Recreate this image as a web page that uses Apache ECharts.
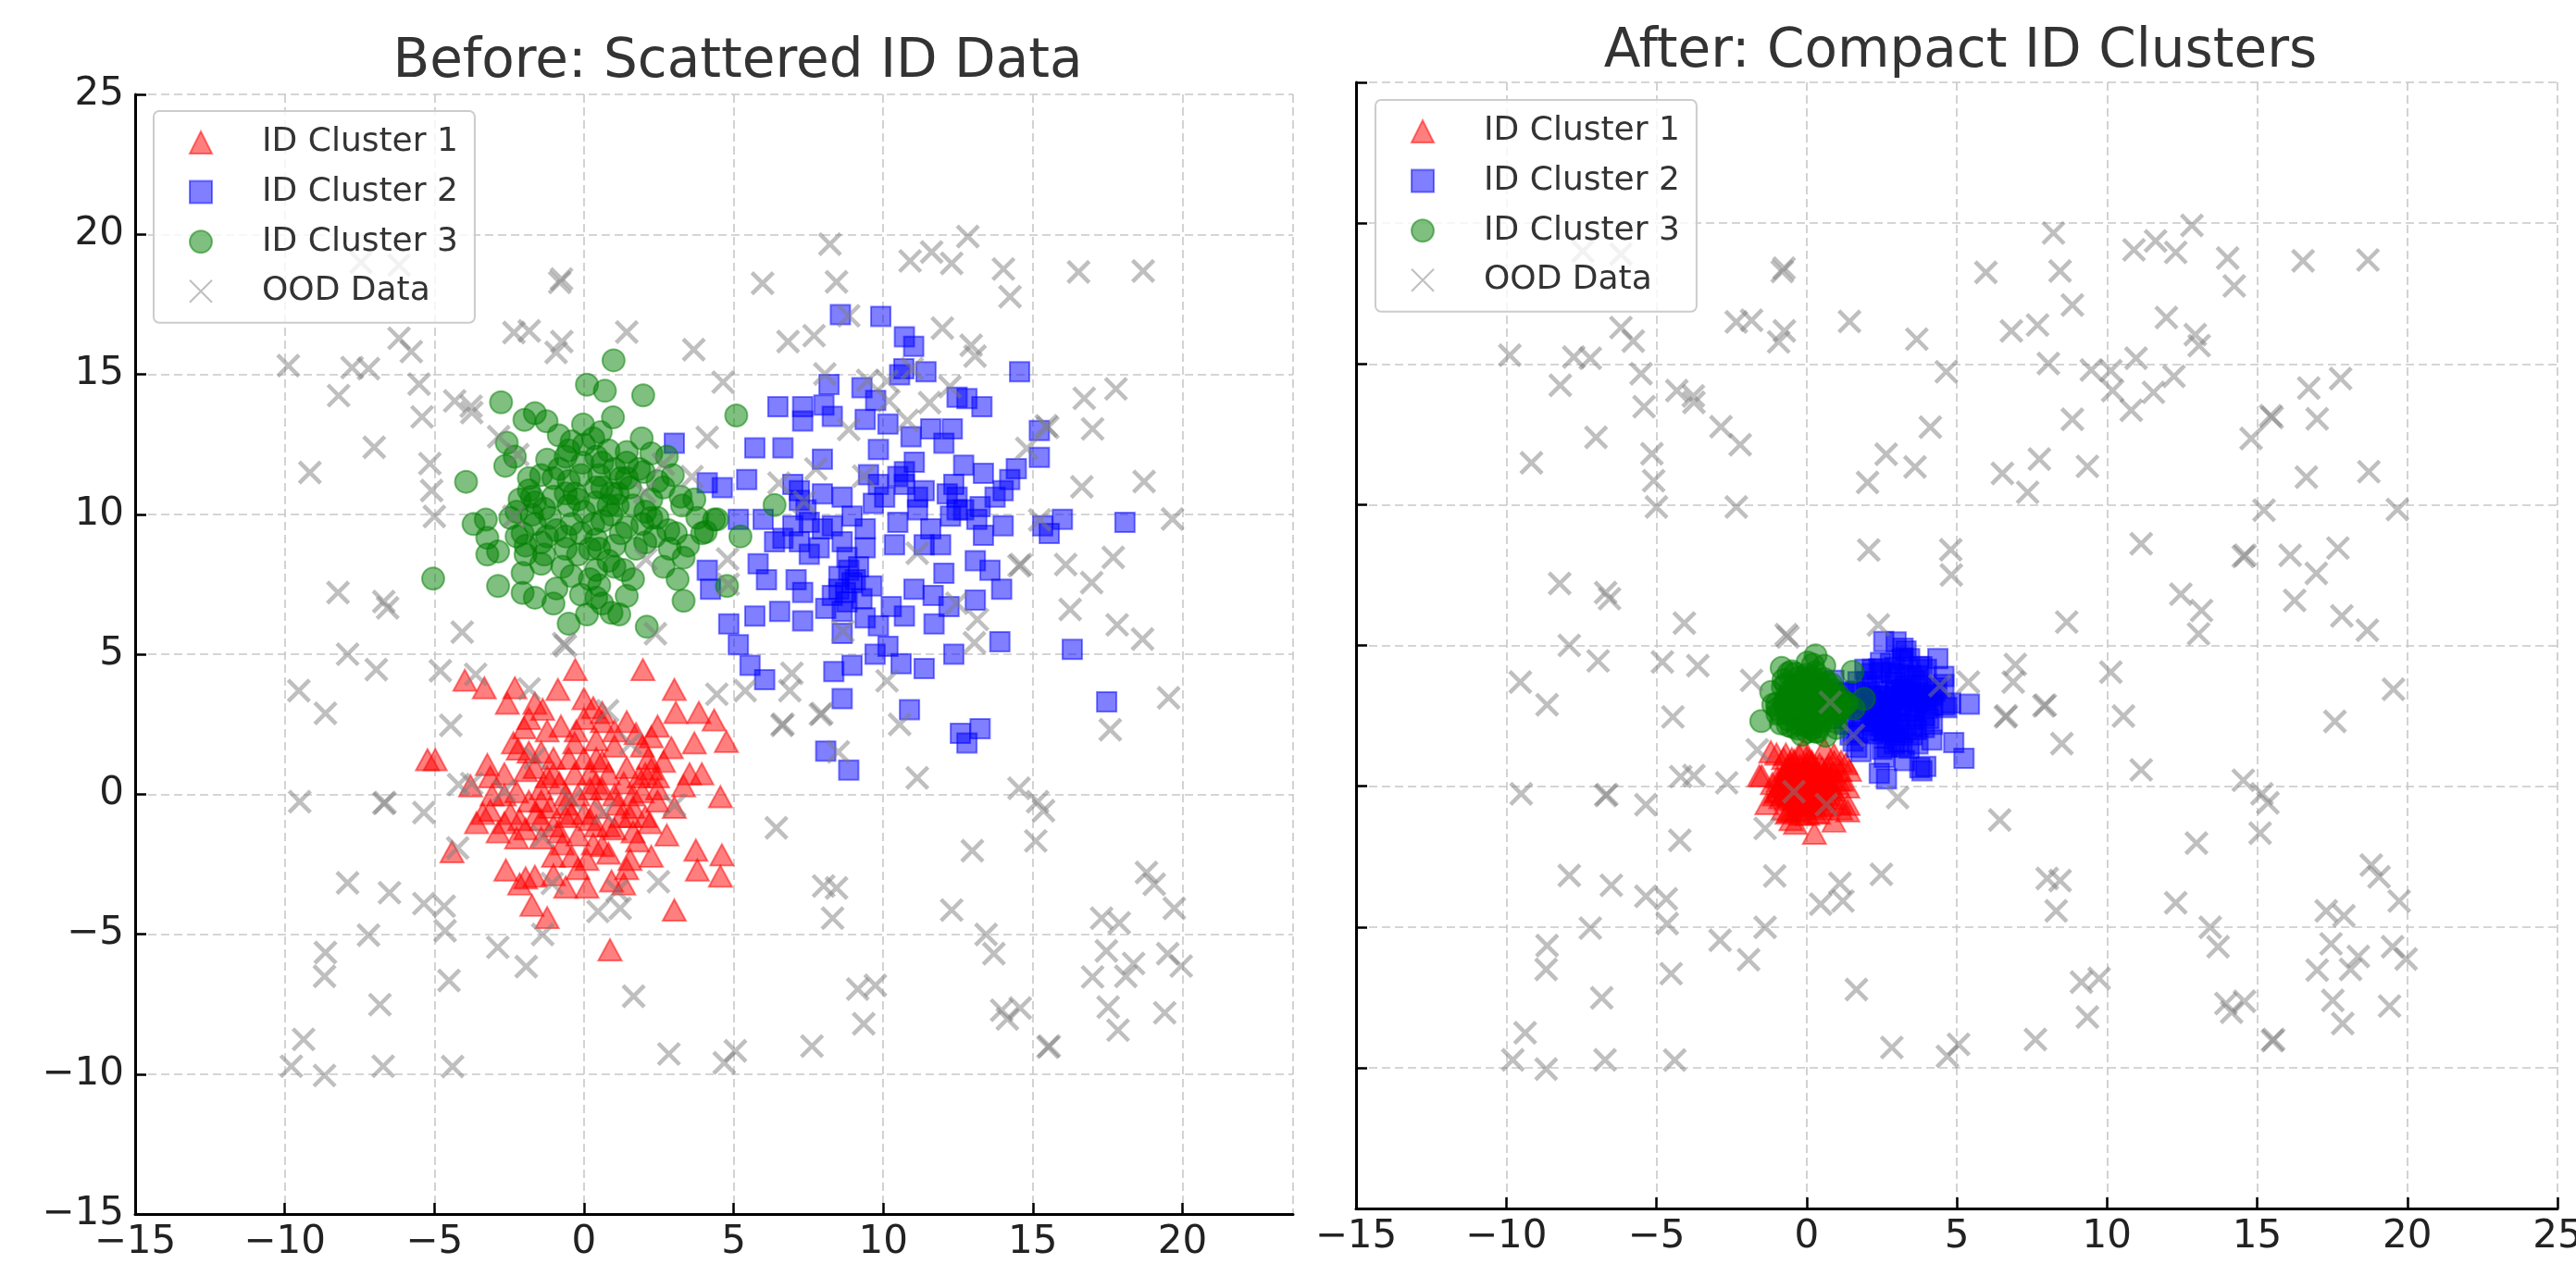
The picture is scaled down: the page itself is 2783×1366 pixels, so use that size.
<!DOCTYPE html>
<html>
<head>
<meta charset="utf-8">
<script src="https://cdn.jsdelivr.net/npm/echarts@6/dist/echarts.min.js"></script>
<style>
html,body{margin:0;padding:0;background:#fff;}
#chart{width:2783px;height:1366px;}
</style>
</head>
<body>
<div id="chart"></div>
<script>
// ---------------- DATA ----------------
const titles = ['Before: Scattered ID Data', 'After: Compact ID Clusters'];
const seriesNames = ['ID Cluster 1', 'ID Cluster 2', 'ID Cluster 3', 'OOD Data'];
const axisRangeBefore = { xMin: -15, xMax: 23.7, yMin: -15, yMax: 25 };
const axisRangeAfter = { xMin: -15, xMax: 25, yMin: -15, yMax: 25 };
const tickStep = 5;

const cluster1Before = [
[-0.29,4.45],[1.97,4.45],[-3.98,4.07],[-3.33,3.8],[-2.31,3.8],[-0.87,3.74],[-2.56,3.25],[-1.38,3.03],[0,3.41],[3.02,3.74],
[3.07,2.92],[3.84,2.92],[4.35,2.65],[4.76,1.88],[3.69,1.83],[2.92,1.66],[2.46,2.43],[1.43,2.59],[0.61,2.59],[0.31,3.09],
[-0.77,2.43],[-2.0,2.37],[-2.36,1.83],[-0.26,2.26],[-5.23,1.23],[-4.97,1.23],[-3.23,1.06],[-2.2,1.61],[-1.43,1.5],[-0.31,1.83],
[0.41,1.94],[1.02,1.72],[1.74,2.16],[2.15,1.28],[3.53,0.73],[3.94,0.73],[4.56,-0.09],[3.33,0.3],[2.46,0.62],[1.84,0.62],
[0.61,1.17],[0.2,0.73],[-1.02,0.73],[-1.95,0.84],[-2.66,0.73],[-3.13,0.62],[-3.79,0.3],[-3.07,-0.03],[-2.25,0.08],[-1.43,0.19],
[-0.82,0.4],[-0.2,-0.03],[0.61,0.19],[1.33,0.4],[1.95,0.08],[2.46,-0.25],[3.02,-0.47],[-3.59,-1.02],[-3.13,-0.58],[-2.66,-1.02],
[-2.15,-0.91],[-1.59,-0.69],[-1.13,-0.47],[-0.61,-0.8],[0,-0.69],[0.41,-0.47],[1.13,-0.36],[1.64,-0.47],[2.05,-0.8],[2.77,-1.46],
[2.2,-1.02],[-2.25,-1.56],[-1.43,-1.56],[-0.82,-1.35],[-0.2,-1.46],[0.41,-1.13],[1.02,-1.24],[1.64,-1.35],[-4.41,-2.06],[-2.61,-2.71],
[-1.95,-2.99],[-1.64,-2.93],[-1.02,-2.22],[-0.41,-2.22],[0.1,-2.33],[0.61,-1.84],[0.82,-2.11],[1.54,-2.33],[2.25,-2.22],[3.74,-2.0],
[4.61,-2.17],[3.79,-2.71],[4.56,-2.93],[-0.61,-3.32],[0.1,-3.32],[0.92,-3.1],[1.33,-3.21],[-1.74,-3.97],[-1.23,-4.41],[3.02,-4.14],
[0.87,-5.56],[-1.43,-0.25],[-0.61,-0.03],[0.2,0.19],[0.82,0.73],[1.02,-0.03],[1.54,-0.8],[-1.84,-0.25],[-2.46,-0.69],[-1.02,1.28],
[-1.84,2.7],[0,2.7],[-1.23,2.26],[2.25,0.9],[1.43,0.95],[-0.51,1.28],[-3.38,-0.69],[-2.87,-1.35],[0.31,-1.78],[-0.2,-2.66],
[-1.02,-2.88],[-2.15,-3.21],[1.79,-1.67],[-0.72,-1.78],[1.95,1.72],[0,1.28],[0.41,1.28],[-1.43,-0.91],[1.23,-0.8],[-1.23,0.62],
[-1.64,0.95],[-2.66,-0.03],[-0.41,-0.69],[0.82,-1.13],[1.43,-2.66],[-0.61,-0.36],[-1.02,-1.13],[0.41,0.4],[1.64,-0.03],[-1.95,-1.24],
[0.2,-0.91],[-0.31,0.73],[2.05,0.73],[2.46,0.19],[-1.64,3.25],[0.61,2.92],[1.02,2.26],[2.25,2.05],[2.66,1.17],[-1.84,1.5]
];

const cluster2Before = [
[8.57,17.13],[9.92,17.07],[10.71,16.34],[11.02,16.0],[10.69,15.2],[11.43,15.09],[14.56,15.09],[8.19,14.64],[9.29,14.52],[9.75,14.07],
[10.55,14.98],[6.48,13.84],[7.31,13.84],[8.02,13.9],[7.31,13.33],[8.3,13.5],[9.4,13.39],[12.47,14.18],[12.8,14.13],[13.3,13.84],
[5.71,12.37],[6.65,12.37],[7.97,11.97],[9.84,12.31],[10.16,13.22],[10.93,12.77],[11.59,13.05],[12.31,13.05],[12.03,12.54],[15.22,12.99],
[15.22,12.03],[14.45,11.63],[14.23,11.24],[12.69,11.75],[13.35,11.46],[12.36,11.07],[11.04,11.86],[10.49,11.35],[9.51,11.41],[5.44,11.24],
[4.62,10.95],[4.12,11.12],[3.02,12.54],[7.2,10.84],[7.97,10.73],[8.63,10.61],[7.2,10.5],[9.67,10.39],[10.71,11.07],[11.37,10.84],
[12.14,10.73],[12.47,10.16],[13.13,9.82],[13.74,10.61],[14.01,9.59],[15.99,9.82],[15.33,9.59],[15.55,9.31],[18.08,9.71],[5.16,9.82],
[5.99,9.82],[6.98,9.59],[7.53,9.71],[8.3,9.59],[8.96,9.93],[9.4,9.48],[10.49,9.71],[11.15,10.16],[11.59,9.48],[12.25,9.93],
[13.35,9.25],[6.37,9.02],[7.2,9.02],[7.86,8.8],[8.63,9.02],[10.38,8.91],[11.37,8.91],[11.92,8.91],[8.79,8.46],[5.82,8.23],
[4.12,8.0],[6.1,7.66],[7.09,7.66],[8.52,7.78],[9.07,7.66],[9.62,7.44],[12.03,7.89],[13.08,8.34],[13.57,8.0],[13.96,7.32],
[4.23,7.32],[7.31,7.21],[8.3,7.1],[8.74,7.21],[9.29,6.98],[11.03,7.32],[11.67,7.1],[13.08,6.93],[12.2,6.7],[4.84,6.08],
[5.71,6.36],[6.54,6.53],[7.31,6.19],[8.08,6.64],[8.63,6.53],[9.4,6.3],[10.27,6.7],[10.71,6.36],[11.7,6.08],[8.63,5.74],
[9.84,6.02],[5.16,5.34],[9.73,5.0],[10.16,5.28],[12.36,5.0],[13.9,5.45],[16.32,5.17],[5.55,4.6],[6.04,4.09],[8.35,4.38],
[8.96,4.6],[10.6,4.66],[11.37,4.49],[8.63,3.41],[10.88,3.02],[17.47,3.3],[12.58,2.17],[13.24,2.34],[12.8,1.83],[8.08,1.54],
[8.85,0.86],[8.85,8.0],[8.96,7.55],[8.52,7.32],[8.79,6.87],[9.18,8.12],[7.97,9.48],[7.42,10.16],[9.84,11.07],[10.71,11.52],
[10.05,10.61],[11.15,10.61],[12.69,10.16],[12.47,10.61],[6.65,9.14],[7.53,8.57],[9.4,8.8],[13.24,10.27],[6.98,11.07],[14.01,10.84]
];

const cluster3Before = [
[0.99,15.5],[0.1,14.63],[0.7,14.41],[1.98,14.25],[-2.77,14.0],[5.09,13.53],[-1.99,13.37],[-1.64,13.61],[-1.25,13.32],[-0.84,12.82],
[-0.03,13.21],[0.97,13.46],[0.56,12.93],[1.93,12.71],[-2.58,12.55],[-2.63,11.73],[-2.31,12.06],[-1.23,11.95],[-0.61,12.06],[-0.05,11.84],
[0.41,12.06],[0.82,12.28],[1.43,12.22],[2.0,11.51],[-3.94,11.16],[-1.84,10.85],[-1.02,11.29],[-0.31,10.74],[0.61,10.96],[1.23,11.29],
[2.77,12.06],[2.66,10.96],[3.23,10.63],[-3.69,9.65],[-3.28,9.81],[-3.23,9.16],[-3.23,8.56],[-2.87,8.67],[-2.25,10.09],[-1.64,10.42],
[-1.13,9.87],[-0.51,10.31],[0.41,10.42],[0.92,9.98],[1.64,10.31],[2.25,9.87],[2.82,9.43],[3.79,9.87],[4.35,9.81],[3.95,9.32],
[5.23,9.21],[3.33,8.45],[-5.04,7.7],[-2.87,7.44],[-2.05,9.32],[-1.95,8.56],[-1.43,8.99],[-0.61,8.77],[-0.1,9.32],[0.41,9.1],
[1.02,8.88],[1.74,8.77],[2.36,9.21],[2.66,8.12],[3.13,7.68],[3.33,6.91],[-2.05,7.9],[-1.43,8.23],[-0.72,8.12],[0.41,8.01],
[1.33,8.01],[-2.05,7.19],[-1.64,7.02],[-0.92,7.35],[-0.1,7.13],[0.51,7.46],[1.43,7.08],[-0.51,6.09],[0.1,6.42],[0.61,6.81],
[0.92,6.48],[1.18,6.42],[2.1,5.98],[-1.74,10.63],[-1.43,11.4],[-0.51,12.28],[0.31,12.71],[-0.1,11.4],[0.51,11.4],[1.13,10.74],
[1.84,11.62],[1.43,11.84],[2.46,11.18],[2.25,10.53],[-0.61,10.74],[0,10.09],[-0.92,9.43],[-0.41,9.65],[0.61,9.76],[1.43,9.54],
[2.05,8.99],[2.87,8.77],[-2.46,9.87],[-2.25,9.21],[-1.64,9.65],[-1.33,8.56],[-0.2,8.56],[0.2,7.68],[-0.41,7.79],[0.82,8.34],
[0.41,7.02],[-1.02,6.81],[-1.74,9.98],[-1.02,10.63],[0.92,10.74],[1.54,10.96],[0.61,11.84],[1.02,11.62],[3.28,10.31],[3.07,9.32],
[3.69,10.53],[3.48,8.88],[2.46,9.87],[2.97,11.4],[-0.82,11.62],[-0.41,12.6],[0,12.49],[1.13,10.31],[0.31,9.65],[1.23,9.32],
[-1.23,9.21],[-0.61,9.21],[0.2,8.77],[1.64,7.68],[-1.95,8.88],[-2.15,10.53],[-1.33,10.2],[-0.2,10.53],[0.82,10.31],[2.05,10.09],
[1.95,9.65],[0.41,10.96],[-0.51,11.18],[-1.84,11.29],[2.25,12.17],[1.43,11.29],[0.51,8.77],[1.02,8.12],[6.37,10.33],[4.45,9.82],
[4.07,9.37],[4.78,7.44]
];

const oodData = [
[-7.45,19.0],[-6.18,18.9],[-0.81,18.28],[-0.75,18.4],[-2.34,16.49],[-1.83,16.55],[-0.74,16.17],[-0.93,15.78],[1.43,16.51],[3.67,15.88],
[-6.18,16.29],[-5.77,15.81],[-9.88,15.31],[-7.75,15.24],[-7.2,15.2],[-8.2,14.24],[-5.51,14.65],[-4.32,14.05],[-3.77,13.86],[-3.75,13.63],
[-5.41,13.48],[-2.85,12.77],[-2.21,12.13],[4.65,14.72],[-7.01,12.39],[-9.16,11.49],[-5.15,11.81],[-5.09,10.85],[-5.0,9.92],[-2.34,9.92],
[4.12,12.75],[2.65,11.79],[3.61,11.34],[2.03,10.79],[2.07,8.39],[4.8,8.4],[4.82,7.5],[-8.22,7.2],[-6.69,6.88],[-6.56,6.66],
[-4.07,5.79],[-0.68,5.38],[-0.62,5.3],[2.39,5.73],[-7.9,5.0],
[8.22,19.65],[5.97,18.25],[8.44,18.3],[8.85,17.09],[6.82,16.17],[7.69,16.38],[8.05,15.01],[10.9,19.05],[11.62,19.37],[12.29,18.96],
[12.83,19.92],[14.02,18.76],[14.24,17.77],[16.53,18.66],[18.69,18.69],[11.98,16.65],[12.94,16.04],[13.07,15.65],[10.97,15.2],[9.48,14.78],
[10.13,14.76],[10.19,14.05],[10.81,13.35],[11.55,13.99],[12.23,14.56],[8.85,13.03],[7.75,11.62],[6.52,11.11],[7.36,10.44],[9.35,11.36],
[14.8,12.35],[15.45,13.16],[15.5,13.1],[16.72,14.14],[17.78,14.48],[17.0,13.05],[16.64,10.98],[18.72,11.17],[15.23,9.8],[19.67,9.83],
[11.14,8.61],[14.54,8.16],[14.6,8.2],[16.1,8.2],[17.69,8.46],[16.97,7.56],[12.46,6.82],[13.15,6.24],[13.05,5.41],[16.25,6.6],
[17.82,6.05],[18.67,5.54],[8.66,5.83],
[-6.94,4.45],[-9.53,3.7],[-8.64,2.89],[-4.8,4.41],[-3.62,4.28],[-4.45,2.46],[-1.83,3.76],[0.79,2.98],[-1.64,1.29],[4.44,3.57],
[1.56,1.81],[-4.19,0.34],[-3.75,0.38],[-2.66,0.12],[-9.5,-0.27],[-6.69,-0.33],[-6.65,-0.3],[-5.35,-0.66],[-0.42,-0.2],[0.66,-0.66],
[3.03,-0.4],[-1.38,-1.5],[-4.22,-1.92],[-7.9,-3.17],[-6.5,-3.52],[-5.35,-3.91],[-4.67,-4.0],[-4.64,-4.88],[-1.06,-3.19],[1.11,-3.45],
[0.47,-4.19],[1.21,-4.08],[2.49,-3.13],[-7.2,-5.04],[-8.64,-5.66],[-8.67,-6.51],[-2.88,-5.47],[-1.38,-5.01],[-1.93,-6.16],[-4.51,-6.66],
[-6.82,-7.52],[1.66,-7.22],[-9.37,-8.76],[-9.78,-9.72],[-8.67,-10.05],[-6.71,-9.72],[-4.39,-9.73],[2.84,-9.28],[4.69,-9.6],
[5.39,3.7],[6.95,4.32],[6.88,3.7],[6.62,2.46],[6.65,2.5],[7.95,2.88],[7.9,2.85],[8.5,1.51],[10.13,4.05],[10.55,2.49],
[11.14,0.58],[14.54,0.21],[15.16,-0.27],[15.36,-0.59],[15.1,-1.67],[12.98,-2.02],[6.43,-1.2],[8.01,-3.28],[8.44,-3.35],[8.31,-4.43],
[12.29,-4.14],[13.44,-5.01],[13.7,-5.7],[19.54,3.44],[17.59,2.3],[18.8,-2.8],[19.06,-3.22],[19.73,-4.08],[17.3,-4.43],[17.89,-4.6],
[17.46,-5.6],[18.37,-6.05],[18.11,-6.51],[17.0,-6.53],[19.51,-5.7],[19.96,-6.14],[17.52,-7.61],[17.85,-8.43],[19.41,-7.81],[9.15,-6.96],
[9.74,-6.83],[9.35,-8.2],[7.62,-9.0],[5.06,-9.17],[13.96,-7.72],[14.58,-7.64],[14.15,-8.03],[15.51,-9.04],[15.55,-9.0]
];

const cluster1After = [
[-0.09,1.34],[-1.19,1.22],[-0.69,1.14],[-0.77,0.98],[0,1.02],[0.92,0.88],[1.31,0.8],[1.11,0.55],[0.74,0.73],[0.18,0.78],
[-0.23,0.73],[-0.71,0.55],[-1.57,0.37],[-0.97,0.32],[-0.43,0.45],[0.12,0.58],[0.52,0.65],[1.06,0.22],[1.37,-0.03],[0.74,0.19],
[0.18,0.35],[-0.31,0.22],[-0.8,0.22],[-1.14,0.09],[-0.68,0.02],[-0.25,0.12],[0.18,0.06],[0.59,0.02],[0.91,-0.14],[-0.94,-0.17],
[-0.65,-0.27],[-0.34,-0.14],[0,-0.21],[0.34,-0.11],[0.62,-0.24],[0.66,-0.31],[-0.43,-0.47],[-0.06,-0.44],[0.31,-0.37],[-1.32,-0.62],
[-0.59,-0.9],[-0.31,-0.67],[0.03,-0.7],[0.25,-0.63],[0.68,-0.67],[1.38,-0.65],[1.37,-0.88],[0.03,-1.0],[0.4,-0.96],[-0.37,-1.32],
[0.26,-1.67],[-0.18,-0.01],[0.25,0.22],[0.46,-0.24],[-0.74,-0.21],[-0.55,0.81],[-0.37,0.68],[0.43,0.29],[-1.01,-0.21],[0.09,-0.53],
[-0.31,-0.86],[0.54,-0.5],[0.59,0.52],[0.12,0.38],[0.37,-0.24],[-0.49,0.29],[-0.12,-0.21],[0.43,-0.8],[-0.31,-0.34],[0.49,-0.01],
[0.06,-0.27],[0.62,0.22],[-0.49,0.98],[0.31,0.68],[0.8,0.35],[0.59,1.34],[-1.0,1.14],[0.91,1.12],[1.15,0.88],[1.43,0.56],
[-1.49,0.37],[1.12,-0.6],[1.14,-0.81],[-0.52,-1.19],[0.91,-1.24],[-0.78,-0.81],[-1.08,-0.31],
[-0.26,1.12],[-0.41,0.91],[0.88,0.5],[0.43,0.78],[0.09,0.93],[-0.6,0.71],[-0.08,0.68],[-0.66,0.48],[-0.09,0.55],[0.31,0.52],
[0.65,0.38],[1.18,0.22],[1.0,0.09],[0.55,0.19],[0.06,0.22],[-0.59,0.25],[-0.94,0.19],[-0.92,-0.01],[-0.43,0.06],[-0.06,-0.01],
[0.4,0.12],[0.74,-0.08],[-0.8,-0.31],[-0.48,-0.21],[-0.18,-0.24],[0.12,-0.14],[0.49,-0.14],[0.83,-0.44],[-0.68,-0.47],[-0.25,-0.41],
[0.12,-0.34],[0.49,-0.41],[-0.49,-0.88],[-0.12,-0.67],[0.18,-0.55],[0.46,-0.7],[-0.18,-1.0],[0.28,-0.93],[0.06,0.06],[0.31,-0.01],
[-0.55,-0.08],[-0.31,0.38],[0,0.81],[0.68,0.27],[-0.15,0.38],[-0.86,-0.41],[-0.06,-0.8],[-0.65,-0.96],[-0.22,-0.53],[0,0.38],
[-0.43,-0.27],[-0.37,0.19],[-0.8,-0.01],[0.25,-0.34],[-0.18,-0.11],[0.12,0.12],[-0.59,-0.37],[-0.09,0.22],[0.74,0.06],[0.18,0.88],
[0.68,0.62],[-0.55,0.45]
];

const cluster2After = [
[2.57,5.14],[3.21,4.9],[3.21,4.56],[4.37,4.53],[2.79,4.36],[3.17,4.49],[2.19,4.15],[2.19,4.0],[2.82,4.02],[3.74,4.25],
[3.99,4.15],[2.0,3.71],[2.95,3.69],[3.28,3.83],[3.69,3.92],[4.57,3.9],[4.34,3.49],[3.81,3.53],[3.71,3.32],[3.15,3.41],
[1.63,3.37],[1.24,3.34],[2.16,3.25],[2.59,3.18],[2.9,3.12],[3.41,3.25],[3.74,3.05],[4.12,3.18],[4.8,2.95],[4.67,2.79],
[1.55,2.95],[2.09,2.88],[2.49,2.88],[2.82,2.84],[3.35,3.05],[3.68,2.98],[1.91,2.71],[2.36,2.64],[3.11,2.67],[3.58,2.67],
[1.75,2.47],[1.83,2.3],[2.56,2.33],[2.89,2.23],[3.92,2.5],[4.19,2.2],[2.19,2.16],[2.62,2.16],[3.31,2.2],[3.92,2.08],
[1.45,1.82],[1.96,1.96],[2.42,1.99],[2.82,1.89],[3.21,1.91],[2.59,1.72],[1.55,1.6],[3.05,1.58],[4.17,1.64],[1.67,1.38],
[2.51,1.31],[3.18,1.4],[2.59,1.02],[5.24,0.99],[3.97,0.7],[2.42,0.46],[2.66,2.4],[2.56,2.2],[2.75,2.44],[2.23,3.05],
[3.21,3.46],[3.35,3.18],[3.74,3.18],[2.26,2.57],[3.97,3.08],[4.2,3.25],[5.42,2.91],[4.9,1.55],[3.84,0.55],[2.66,0.26],
[3.77,0.65],[3.26,0.91],[2.98,5.12],[0.91,3.76],[1.39,3.29],[4.57,3.61],[4.6,2.88],
[3.31,4.8],[3.43,4.53],[2.46,4.39],[2.93,4.22],[1.94,4.15],[2.41,4.17],[2.49,4.05],[3.84,4.24],[1.71,3.71],[2.39,3.59],
[3.05,3.97],[3.48,3.92],[3.61,3.76],[4.27,3.37],[4.0,3.44],[3.31,3.56],[2.85,3.42],[2.39,3.22],[2.16,3.15],[3.21,3.32],
[3.64,3.22],[3.94,2.95],[4.2,2.88],[1.8,2.95],[2.26,2.91],[2.69,2.98],[3.15,2.91],[3.48,2.84],[4.0,2.78],[2.16,2.71],
[2.59,2.71],[3.41,2.67],[2.64,2.54],[1.24,2.4],[2.13,2.3],[2.72,2.3],[3.61,2.37],[4.07,2.4],[1.27,2.2],[2.49,2.13],
[2.79,2.09],[3.5,2.13],[3.66,2.01],[1.71,1.91],[2.19,1.86],[2.59,1.96],[3.08,2.01],[3.51,1.82],[2.95,1.81],[2.92,1.5],
[3.71,1.5],[1.81,1.23],[2.69,1.38],[3.41,1.35],[2.69,2.27],[2.64,2.06],[2.39,2.84],[2.95,3.32],[3.02,3.18],[3.81,3.05],
[2.0,2.74],[2.82,2.64],[2.09,3.32]
];

const cluster3After = [
[0.3,4.65],[0.21,4.32],[-0.83,4.2],[-0.6,4.01],[-0.38,4.0],[-0.01,3.96],[0.17,3.88],[-0.77,3.77],[-0.69,3.62],[-0.18,3.62],
[0.12,3.62],[0.43,3.67],[-1.18,3.35],[-0.31,3.39],[0.18,3.29],[0.83,3.62],[0.97,3.19],[-0.98,2.94],[-0.97,2.57],[-0.68,3.03],
[-0.34,2.96],[0.12,3.13],[0.49,3.09],[0.85,2.83],[1.31,2.94],[1.57,2.76],[-1.51,2.31],[-0.62,2.8],[-0.43,2.7],[-0.03,2.8],
[0.31,2.66],[0.71,2.76],[0.94,2.3],[-0.62,2.37],[-0.22,2.44],[0.4,2.4],[-0.49,2.11],[-0.03,2.14],[0.43,2.12],[0.03,1.93],
[0.28,1.94],[0.63,1.79],[-0.43,3.42],[0.09,3.81],[0.15,3.42],[0.55,3.49],[0.74,3.35],[-0.18,3.22],[-0.28,2.83],[0.18,2.93],
[0.62,2.7],[-0.74,2.96],[-0.49,2.9],[-0.06,2.57],[-0.12,2.34],[0.12,2.11],[-0.52,2.99],[0.28,3.22],[0.18,3.55],[0.98,3.09],
[1.11,3.16],[0.74,2.96],[-0.25,3.49],[0,3.75],[0.09,2.9],[-0.37,2.76],[0.06,2.63],[-0.59,2.66],[-0.4,3.06],[0.25,3.09],
[0.59,2.9],[-0.15,3.35],[0.68,3.65],[0.15,2.63],[1.53,4.06],[0.59,4.28],[-1.11,2.9],[-0.86,2.23],[1.0,2.07],[-0.15,1.83],
[0.03,4.39],[-0.49,4.08],[1.91,3.1],[1.34,2.95],[1.0,2.54],
[-0.25,3.85],[0.29,4.04],[0.58,3.81],[-0.79,3.52],[-0.37,3.59],[-0.02,3.55],[0.25,3.68],[0.6,3.45],[-0.55,3.26],[-0.09,3.22],
[0.37,3.39],[0.8,3.29],[-0.97,2.75],[-0.86,2.6],[-0.49,3.13],[-0.15,3.09],[0.28,2.99],[0.68,2.96],[1.14,2.96],[1.19,2.8],
[-0.59,2.57],[-0.18,2.63],[0.12,2.73],[0.52,2.63],[0.8,2.44],[-0.43,2.47],[0.12,2.4],[-0.62,2.16],[-0.28,2.21],[0.15,2.24],
[0.18,2.04],[0.35,1.93],[-0.52,3.19],[-0.15,3.68],[-0.03,3.42],[0.34,3.22],[0.43,3.55],[0.68,3.16],[0,3.03],[-0.12,2.9],
[0.43,2.86],[0.86,2.63],[-0.68,2.76],[-0.4,2.57],[0.06,2.3],[0.25,2.5],[-0.31,2.04],[-0.31,3.19],[0.46,3.29],[0.31,3.49],
[0.92,2.8],[1.04,2.66],[0.89,3.42],[-0.12,3.78],[0.34,3.09],[0.37,2.8],[-0.18,2.76],[0.49,2.3],[-0.65,3.16],[-0.06,3.16],
[0.62,3.03],[0.12,3.29],[-0.55,3.39],[0.43,3.39],[0.31,2.44]
];

// ---------------- STYLE / BUILD ----------------
const FONT = "'DejaVu Sans', 'Noto Sans', sans-serif";
const crossPath = 'path://M0,0L10,10M10,0L0,10';
const minus = v => String(v).replace('-', '\u2212');

function makeAxis(gridIndex, range, showLabels, isX) {
  const r = isX ? [range.xMin, range.xMax] : [range.yMin, range.yMax];
  return {
    type: 'value', gridIndex: gridIndex, min: r[0], max: r[1], interval: tickStep,
    axisLine: { show: true, onZero: false, lineStyle: { color: '#000', width: 3 } },
    axisTick: { show: true, inside: true, length: 12, lineStyle: { color: '#000', width: 2.5 } },
    axisLabel: {
      show: showLabels, fontSize: 42, fontFamily: FONT, color: '#222',
      margin: isX ? 10 : 12, showMaxLabel: (r[1] % tickStep === 0),
      formatter: minus
    },
    splitLine: { show: true, lineStyle: { type: [9, 5], color: '#c8c8c8', width: 1.6 } }
  };
}

const scatterStyles = [
  { symbol: 'triangle', symbolSize: [25, 23], itemStyle: { color: '#ff0000', borderColor: '#ff0000', borderWidth: 2, opacity: 0.5 } },
  { symbol: 'rect', symbolSize: 21, itemStyle: { color: '#0000ff', borderColor: '#0000ff', borderWidth: 2, opacity: 0.5 } },
  { symbol: 'circle', symbolSize: 24, itemStyle: { color: '#008000', borderColor: '#008000', borderWidth: 2, opacity: 0.5 } },
  { symbol: crossPath, symbolSize: 23, itemStyle: { color: 'rgba(0,0,0,0)', borderColor: '#808080', borderWidth: 4.5, opacity: 0.5 } }
];

const beforeSets = [cluster1Before, cluster2Before, cluster3Before, oodData];
const afterSets = [cluster1After, cluster2After, cluster3After, oodData];

const series = [];
[beforeSets, afterSets].forEach((sets, gi) => {
  sets.forEach((d, k) => {
    series.push(Object.assign({
      type: 'scatter', name: seriesNames[k], xAxisIndex: gi, yAxisIndex: gi,
      data: d, z: 2 + k, emphasis: { disabled: true }
    }, JSON.parse(JSON.stringify(scatterStyles[k]))));
  });
});

function makeLegend(left, top) {
  return {
    orient: 'vertical', left: left, top: top, data: seriesNames,
    itemWidth: 24, itemHeight: 24, itemGap: 17.6,
    padding: [16, 18, 16, 38],
    backgroundColor: 'rgba(255,255,255,0.8)', borderColor: '#cccccc', borderWidth: 2, borderRadius: 6,
    textStyle: { fontSize: 36, fontFamily: FONT, color: '#333', lineHeight: 36, padding: [0, 0, 0, 49] },
    selectedMode: false, z: 10
  };
}

const option = {
  animation: false,
  backgroundColor: '#ffffff',
  title: [
    { text: titles[0], left: 792, top: 34, textAlign: 'center', textStyle: { fontSize: 58, fontWeight: 'normal', color: '#333', fontFamily: FONT } },
    { text: titles[1], left: 2113, top: 23, textAlign: 'center', textStyle: { fontSize: 58, fontWeight: 'normal', color: '#333', fontFamily: FONT } }
  ],
  legend: [makeLegend(166, 120), makeLegend(1486, 108)],
  grid: [
    { left: 146, top: 102, width: 1251, height: 1210, outerBoundsMode: 'none' },
    { left: 1465, top: 89, width: 1298, height: 1217, outerBoundsMode: 'none' }
  ],
  xAxis: [makeAxis(0, axisRangeBefore, true, true), makeAxis(1, axisRangeAfter, true, true)],
  yAxis: [makeAxis(0, axisRangeBefore, true, false), makeAxis(1, axisRangeAfter, false, false)],
  series: series
};

const chart = echarts.init(document.getElementById('chart'), null, { renderer: 'canvas' });
chart.setOption(option);
</script>
</body>
</html>
